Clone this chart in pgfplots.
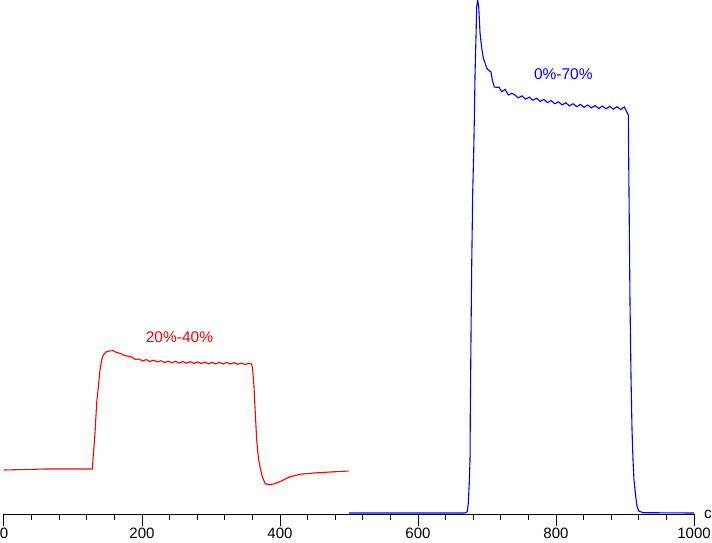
\documentclass[border=0pt]{standalone}
\usepackage{fontspec}
\setmainfont{Liberation Sans}
\usepackage{pgfplots}
\pgfplotsset{compat=1.18}
\usetikzlibrary{calc}
\begin{document}
\begin{tikzpicture}
\begin{axis}[
  name=ax,
  scale only axis,
  width=690pt, height=514pt,
  xmin=0, xmax=1000, ymin=0, ymax=514,
  axis x line=bottom, axis y line=none,
  axis line style={-, black, line width=1pt},
  xtick={0,200,...,1000},
  minor x tick num=4,
  tick align=outside,
  major tick length=12pt, minor tick length=6pt,
  tick style={black, line width=1pt},
  every tick label/.append style={font=\fontsize{15}{17}\selectfont},
  xticklabel style={yshift=1.5pt},
  /pgf/number format/assume math mode=true,
  /pgf/number format/1000 sep={},
  clip=false,
]
\addplot[red, line width=1.1pt] coordinates {
(0,44) (60,45) (128,45) (129.4,59) (131.9,81) (134.3,111) (136.7,127) (139.1,144)
(141.6,154) (143.9,159) (147.8,162) (152,163) (158.4,163.3) (163,161.5) (168.1,160.7) (175,158.5)
(185.0,157.0) (190.3,154.4) (195.6,155.1) (200.9,153.0) (206.2,154.4) (211.5,152.5)
(216.8,153.9) (222.1,152.0) (227.4,153.3) (232.7,151.5) (238.0,152.9) (243.3,151.2)
(248.6,152.7) (253.9,151.0) (259.2,152.5) (264.5,150.8) (269.8,152.3) (275.1,150.6)
(280.4,152.1) (285.7,150.4) (291.0,151.9) (296.3,150.2) (301.6,151.8) (306.9,150.1)
(312.2,151.7) (317.5,150.0) (322.8,151.6) (328.1,149.9) (333.4,151.4) (338.7,149.7)
(344.0,151.1) (349.3,149.4) (354.6,150.9) (358.9,150)
(360.4,144) (362.3,127.3) (364.2,100.7) (366.2,74) (368.5,57.3) (371,47.3) (374.3,37.3)
(378.3,30.7) (383.1,29.3) (390.3,30) (400,32.3) (414.5,37.3) (429,39.7) (448.3,41)
(472.5,42) (499,43)
};
\addplot[blue, line width=1.1pt] coordinates {
(500,1) (668,1) (671.4,2.3) (672.9,11) (674.3,31) (675.4,54) (675.8,101) (676.8,177)
(677.8,247) (679.3,322) (680.7,361) (681.6,394) (682.7,441) (684.2,481) (685,507)
(686.5,514) (688,507) (689.9,481) (692.3,466) (694.6,456) (697.1,451) (699.5,446)
(701.9,444) (705.8,442) (707.7,434) (710.6,427) (714,426.7) (717.4,426.7) (721.3,422.3)
(726.1,424.7) (730.9,419) (735.8,420.7)
(740.0,419.3) (745.3,416.1) (750.6,418.1) (755.9,414.9) (761.2,416.9) (766.5,413.7)
(771.8,415.8) (777.1,412.6) (782.4,414.6) (787.7,411.4) (793.0,413.4) (798.3,410.2)
(803.6,412.2) (808.9,409.1) (814.2,411.2) (819.5,408.1) (824.8,410.3) (830.1,407.3)
(835.4,409.6) (840.7,406.7) (846.0,409.0) (851.3,406.1) (856.6,408.4) (861.9,405.5)
(867.2,407.9) (872.5,405.2) (877.8,407.6) (883.1,404.8) (888.4,407.3) (893.7,404.5)
(899.0,407.0) (902.4,402.3) (904.8,399) (905.8,321) (907.2,214) (908.7,137.3)
(910.1,86) (911.6,54) (913,34) (915,21) (917,9) (919.9,3) (926.5,1.3) (1000,1)
};
\node[red, font=\fontsize{15.5}{18}\selectfont] at (axis cs:254.3,177) {20\%-40\%};
\node[blue, font=\fontsize{15.5}{18}\selectfont] at (axis cs:810.6,440) {0\%-70\%};
\node[anchor=base west, inner sep=0pt, font=\fontsize{15.5}{18}\selectfont] at (axis cs:1014.5,-4.3) {c};
\end{axis}
\pgfresetboundingbox
\useasboundingbox ($(ax.south west)+(-4pt,-28pt)$) rectangle ($(ax.north east)+(18pt,0pt)$);
\end{tikzpicture}
\end{document}
